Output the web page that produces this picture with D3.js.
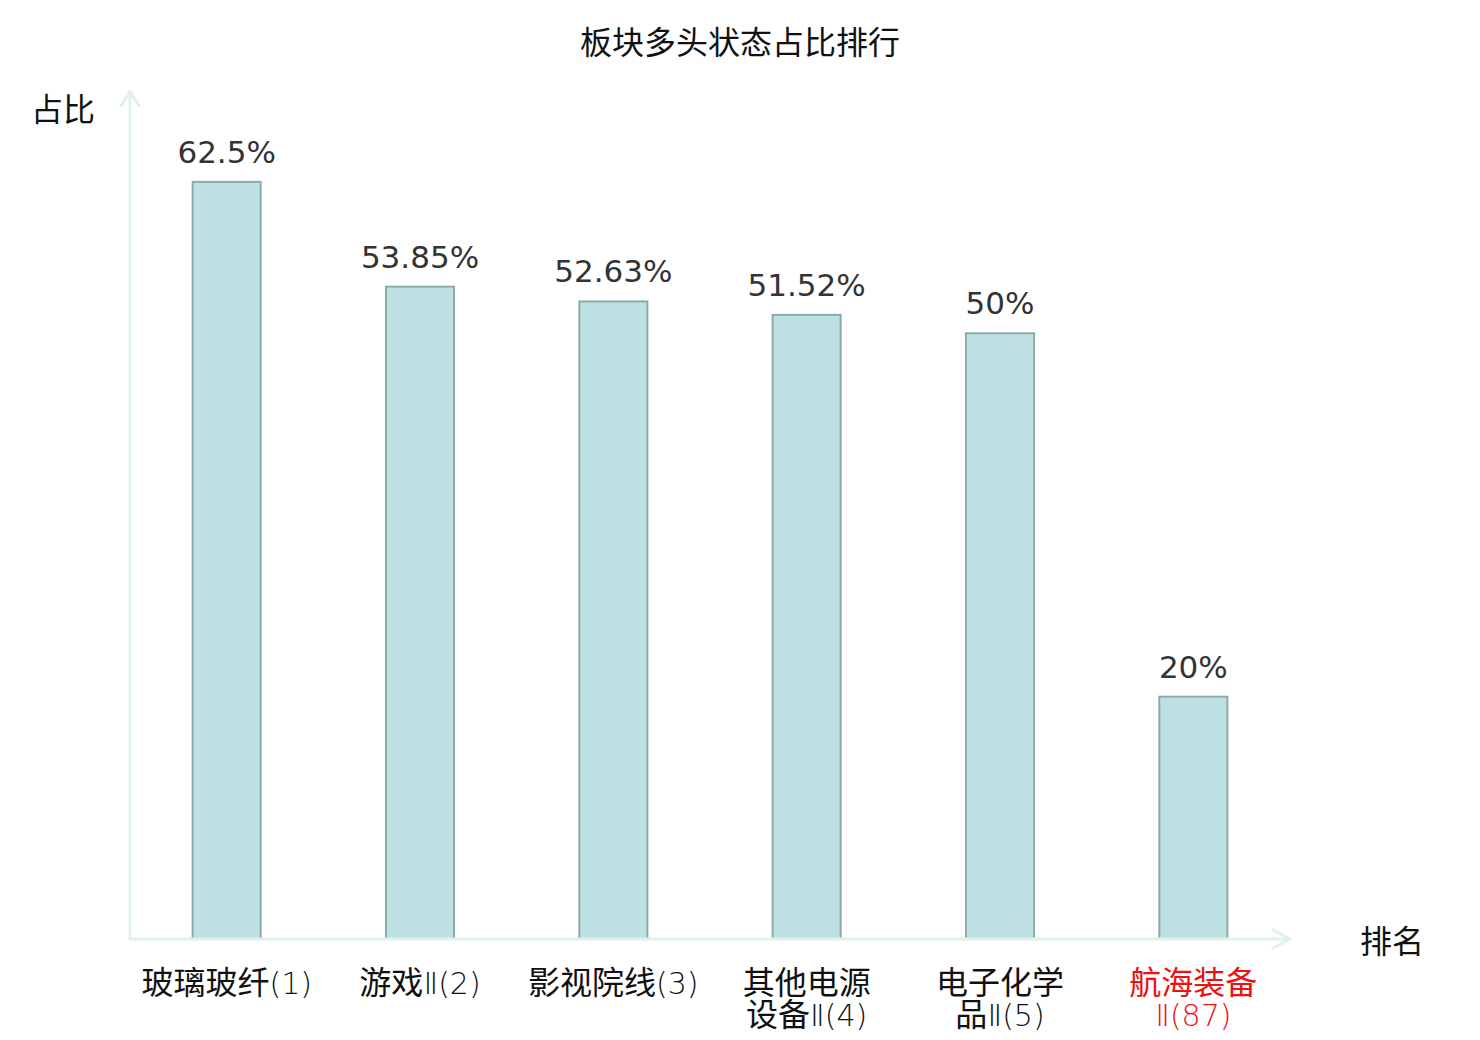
<!DOCTYPE html>
<html>
<head>
<meta charset="utf-8">
<script src="https://cdn.jsdelivr.net/npm/d3@7"></script>
<style>
  html, body { margin: 0; padding: 0; background: #fff; }
  svg { display: block; }
</style>
</head>
<body>
<svg id="chart"></svg>
<script>
// 板块多头状态占比排行 柱状图

const categories = ["玻璃玻纤(1)", "游戏Ⅱ(2)", "影视院线(3)", "其他电源设备Ⅱ(4)", "电子化学品Ⅱ(5)", "航海装备Ⅱ(87)"];
const values = [62.5, 53.85, 52.63, 51.52, 50, 20];
const valueLabels = ["62.5%", "53.85%", "52.63%", "51.52%", "50%", "20%"];
const highlighted = ["航海装备Ⅱ(87)"];

const width = 1480;
const height = 1040;
const svg = d3.select("#chart").attr("width", width).attr("height", height);

const cjk = "'Noto Sans CJK SC', 'Noto Sans', sans-serif";
const latin = "'DejaVu Sans', 'Noto Sans CJK SC', sans-serif";
const axisColor = "#dff2ef";

// 스케일
const x = d3.scaleBand()
    .domain(categories)
    .range([130, 1290])
    .paddingInner(0.648)
    .paddingOuter(0.324);

const y = d3.scaleLinear()
    .domain([0, 70])
    .range([939, 91]);

// 제목
svg.append("text")
    .attr("x", 740)
    .attr("y", 54)
    .attr("text-anchor", "middle")
    .attr("font-family", cjk)
    .attr("font-size", 32)
    .attr("fill", "#111")
    .text("板块多头状态占比排行");

// 막대
svg.append("g")
    .selectAll("rect")
    .data(values)
    .enter()
    .append("rect")
    .attr("x", (d, i) => x(categories[i]))
    .attr("y", d => y(d))
    .attr("width", x.bandwidth())
    .attr("height", d => y(0) - y(d))
    .attr("fill", "#bde0e3")
    .attr("stroke", "#8eaaab")
    .attr("stroke-width", 2);

// 값 라벨
svg.append("g")
    .selectAll("text")
    .data(values)
    .enter()
    .append("text")
    .attr("x", (d, i) => x(categories[i]) + x.bandwidth() / 2)
    .attr("y", d => y(d) - 19)
    .attr("text-anchor", "middle")
    .attr("font-family", latin)
    .attr("font-size", 31)
    .attr("fill", "#333")
    .text((d, i) => valueLabels[i]);

// 축
const axes = svg.append("g")
    .attr("stroke", axisColor)
    .attr("stroke-width", 3)
    .attr("fill", "none")
    .attr("stroke-linecap", "round")
    .attr("stroke-linejoin", "round");

const x0 = x.range()[0];
const x1 = x.range()[1];
axes.append("line").attr("x1", x0).attr("y1", y(0)).attr("x2", x0).attr("y2", y.range()[1]);
axes.append("path").attr("d", `M${x0 - 9},${y.range()[1] + 15}L${x0},${y.range()[1]}L${x0 + 9},${y.range()[1] + 15}`);
axes.append("line").attr("x1", x0).attr("y1", y(0)).attr("x2", x1).attr("y2", y(0));
axes.append("path").attr("d", `M${x1 - 17},${y(0) - 9}L${x1},${y(0)}L${x1 - 17},${y(0) + 9}`);

// 축 이름
svg.append("text")
    .attr("x", 63)
    .attr("y", 121)
    .attr("text-anchor", "middle")
    .attr("font-family", cjk)
    .attr("font-size", 32)
    .attr("fill", "#111")
    .text("占比");

svg.append("text")
    .attr("x", 1392)
    .attr("y", 953)
    .attr("text-anchor", "middle")
    .attr("font-family", cjk)
    .attr("font-size", 32)
    .attr("fill", "#111")
    .text("排名");

// 카테고리 라벨 (긴 이름은 4글자에서 줄바꿈, 한자 외 부분은 가는 글꼴)
const labelGroup = svg.append("g");

categories.forEach(d => {
    const lines = d.length > 7 ? [d.slice(0, 4), d.slice(4)] : [d];
    const cx = x(d) + x.bandwidth() / 2;
    lines.forEach((line, i) => {
        const t = labelGroup.append("text")
            .attr("x", cx)
            .attr("y", 994 + i * 32)
            .attr("text-anchor", "middle")
            .attr("font-family", cjk)
            .attr("font-size", 32)
            .attr("fill", highlighted.includes(d) ? "#ee1111" : "#111");
        const m = line.match(/^([\u4e00-\u9fff]*)(.*)$/);
        if (m[1]) t.append("tspan").text(m[1]);
        if (m[2]) {
            t.append("tspan")
                .attr("font-family", "'DejaVu Sans', sans-serif")
                .attr("font-weight", 200)
                .attr("font-size", 30)
                .text(m[2]);
        }
    });
});
</script>
</body>
</html>
